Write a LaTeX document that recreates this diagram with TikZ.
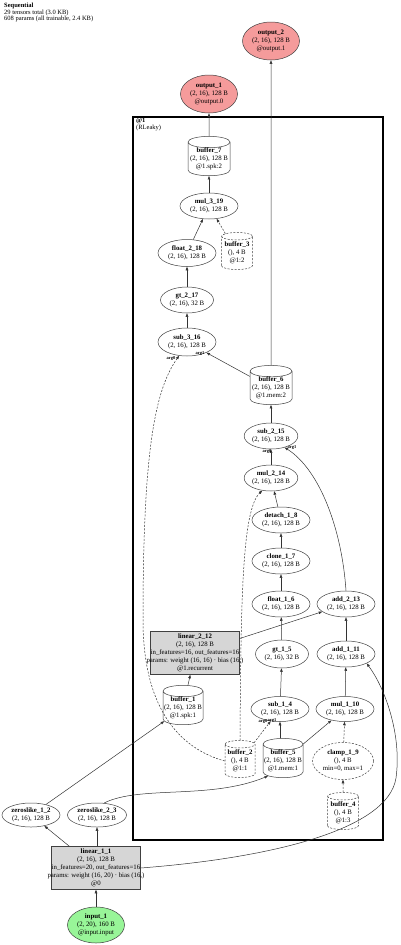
\documentclass[tikz,border=0pt]{standalone}
\usepackage{fontspec}
\setmainfont{Liberation Serif}
\usetikzlibrary{shapes.geometric,arrows.meta,calc}
\definecolor{outfill}{HTML}{F59B9B}
\definecolor{infill}{HTML}{98F598}
\definecolor{opfill}{HTML}{D6D6D6}
\newcommand{\ovl}[1]{\makebox[80pt][c]{#1}}
\begin{document}
\begin{tikzpicture}[x=1pt,y=-1pt,
  every node/.style={font=\fontsize{6.8}{7.9}\selectfont, align=center, inner sep=0pt},
  ell/.style={ellipse, draw=black!75, line width=0.5pt},
  cyl/.style={cylinder, shape border rotate=90, aspect=0.3, draw=black!75, line width=0.5pt},
  box/.style={rectangle, draw=black!75, line width=0.5pt, fill=opfill},
  dsh/.style={dash pattern=on 2pt off 1.5pt},
  conn/.style={draw=black!80, line width=0.5pt, -{Triangle[length=3.5pt,width=2.6pt]}},
  lbl/.style={font=\fontsize{4.5}{5}\selectfont\bfseries},
  ttl/.style={font=\fontsize{6.5}{6.6}\selectfont, align=left, anchor=north west}
]
\useasboundingbox (0,0) rectangle (400,945);

% title
\node[ttl] (title) at (4,3) {\textbf{Sequential}\\29 tensors total (3.0 KB)\\608 params (all trainable, 2.4 KB)};

% module box
\draw[line width=2.5pt] (133,117) rectangle (383,840);
\node[ttl] (boxlabel) at (136,118) {\textbf{@1}\\(RLeaky)};

% nodes
\node[ell, fill=outfill, minimum width=57, minimum height=38] (output_2) at (271,41) {\textbf{output\_2}\\(2, 16), 128 B\\@output.1};
\node[ell, fill=outfill, minimum width=57, minimum height=38] (output_1) at (209,94) {\textbf{output\_1}\\(2, 16), 128 B\\@output.0};
\node[cyl, minimum width=42, minimum height=38] (buffer_7) at (209,159) {\textbf{buffer\_7}\\(2, 16), 128 B\\@1.spk:2};
\node[ell, minimum width=58, minimum height=26] (mul_3_19) at (209,206) {\textbf{mul\_3\_19}\\(2, 16), 128 B};
\node[ell, minimum width=58, minimum height=27] (float_2_18) at (187,253) {\textbf{float\_2\_18}\\(2, 16), 128 B};
\node[cyl, dsh, minimum width=31, minimum height=37] (buffer_3) at (237,253) {\textbf{buffer\_3}\\(), 4 B\\@1:2};
\node[ell, minimum width=53, minimum height=26] (gt_2_17) at (187,300) {\textbf{gt\_2\_17}\\(2, 16), 32 B};
\node[ell, minimum width=58, minimum height=28] (sub_3_16) at (187,342) {\textbf{sub\_3\_16}\\(2, 16), 128 B};
\node[cyl, minimum width=42, minimum height=37] (buffer_6) at (271,388) {\textbf{buffer\_6}\\(2, 16), 128 B\\@1.mem:2};
\node[ell, minimum width=48, minimum height=26] (sub_2_15) at (271,436) {\textbf{sub\_2\_15}\\(2, 16), 128 B};
\node[ell, minimum width=48, minimum height=26] (mul_2_14) at (271,478) {\textbf{mul\_2\_14}\\(2, 16), 128 B};
\node[ell, minimum width=58, minimum height=26] (detach_1_8) at (281,520) {\textbf{detach\_1\_8}\\(2, 16), 128 B};
\node[ell, minimum width=58, minimum height=26] (clone_1_7) at (281,561) {\textbf{clone\_1\_7}\\(2, 16), 128 B};
\node[ell, minimum width=58, minimum height=26] (float_1_6) at (281,604) {\textbf{float\_1\_6}\\(2, 16), 128 B};
\node[ell, minimum width=58, minimum height=26] (add_2_13) at (346,604) {\textbf{add\_2\_13}\\(2, 16), 128 B};
\node[ell, minimum width=53, minimum height=28] (gt_1_5) at (282,654) {\textbf{gt\_1\_5}\\(2, 16), 32 B};
\node[ell, minimum width=58, minimum height=26] (add_1_11) at (346,654) {\textbf{add\_1\_11}\\(2, 16), 128 B};
\node[box, minimum width=89, minimum height=43] (linear_2_12) at (195,653) {\textbf{linear\_2\_12}\\(2, 16), 128 B\\\ovl{in\_features=16, out\_features=16}\\\ovl{params: weight (16, 16) · bias (16,)}\\@1.recurrent};
\node[cyl, minimum width=40, minimum height=37] (buffer_1) at (183,708) {\textbf{buffer\_1}\\(2, 16), 128 B\\@1.spk:1};
\node[ell, minimum width=58, minimum height=25] (sub_1_4) at (280,709) {\textbf{sub\_1\_4}\\(2, 16), 128 B};
\node[ell, minimum width=58, minimum height=25] (mul_1_10) at (345,709) {\textbf{mul\_1\_10}\\(2, 16), 128 B};
\node[cyl, dsh, minimum width=30, minimum height=37] (buffer_2) at (240,761) {\textbf{buffer\_2}\\(), 4 B\\@1:1};
\node[cyl, minimum width=40, minimum height=36] (buffer_5) at (283,761) {\textbf{buffer\_5}\\(2, 16), 128 B\\@1.mem:1};
\node[ell, dsh, minimum width=61, minimum height=37] (clamp_1_9) at (343,761) {\textbf{clamp\_1\_9}\\(), 4 B\\min=0, max=1};
\node[cyl, dsh, minimum width=31, minimum height=37] (buffer_4) at (343,813) {\textbf{buffer\_4}\\(), 4 B\\@1:3};
\node[ell, minimum width=58, minimum height=24] (zeroslike_1_2) at (31,815) {\textbf{zeroslike\_1\_2}\\(2, 16), 128 B};
\node[ell, minimum width=59, minimum height=24] (zeroslike_2_3) at (97,815) {\textbf{zeroslike\_2\_3}\\(2, 16), 128 B};
\node[box, minimum width=89, minimum height=43] (linear_1_1) at (96,868) {\textbf{linear\_1\_1}\\(2, 16), 128 B\\\ovl{in\_features=20, out\_features=16}\\\ovl{params: weight (16, 20) · bias (16,)}\\@0};
\node[ell, fill=infill, minimum width=57, minimum height=36] (input_1) at (96,925) {\textbf{input\_1}\\(2, 20), 160 B\\@input.input};

% waypoints
\coordinate (w1) at (396,778);
\coordinate (w2) at (143,620);

% connectors
\draw[conn] (input_1) -- (linear_1_1);
\draw[conn] (linear_1_1) -- (zeroslike_1_2);
\draw[conn] (linear_1_1.north -| zeroslike_2_3) -- (zeroslike_2_3);
\draw[conn] (linear_1_1.east) .. controls (270,858) and (388,830) .. (w1) .. controls (402,735) and (385,688) .. (add_1_11.south east);
\draw[conn] (zeroslike_1_2) -- (buffer_1);
\draw[conn] (zeroslike_2_3.60) .. controls (140,785) and (210,800) .. (buffer_5.south west);
\draw[conn] (buffer_1) -- (linear_2_12);
\draw[conn] (linear_2_12) -- (add_2_13);
\draw[conn, dsh] (buffer_2.west) .. controls (185,750) and (143,715) .. (w2) .. controls (143,450) and (155,390) .. (sub_3_16.240);
\draw[conn, dsh] (buffer_2.north) .. controls (241,600) and (242,510) .. (mul_2_14.235);
\draw[conn, dsh] (buffer_2) -- (sub_1_4);
\draw[conn] (buffer_5.north -| sub_1_4) -- (sub_1_4);
\draw[conn] (buffer_5) -- (mul_1_10);
\draw[conn, dsh] (buffer_4) -- (clamp_1_9);
\draw[conn, dsh] (clamp_1_9) -- (mul_1_10);
\draw[conn] (mul_1_10) -- (add_1_11);
\draw[conn] (add_1_11) -- (add_2_13);
\draw[conn] (sub_1_4) -- (gt_1_5);
\draw[conn] (gt_1_5) -- (float_1_6);
\draw[conn] (float_1_6) -- (clone_1_7);
\draw[conn] (clone_1_7) -- (detach_1_8);
\draw[conn] (detach_1_8) -- (mul_2_14);
\draw[conn] (mul_2_14) -- (sub_2_15);
\draw[conn] (add_2_13.north) .. controls (342,530) and (320,470) .. (sub_2_15.-40);
\draw[conn] (sub_2_15) -- (buffer_6);
\draw[conn] (buffer_6) -- (sub_3_16);
\draw[conn] (buffer_6.north) -- (output_2.south);
\draw[conn] (sub_3_16) -- (gt_2_17);
\draw[conn] (gt_2_17) -- (float_2_18);
\draw[conn] (float_2_18) -- (mul_3_19);
\draw[conn, dsh] (buffer_3) -- (mul_3_19);
\draw[conn] (mul_3_19) -- (buffer_7);
\draw[conn] (buffer_7) -- (output_1);

% edge labels
\node[lbl] (l1) at (171,358) {arg0};
\node[lbl] (l2) at (200,354) {arg1};
\node[lbl] (l3) at (267,451) {arg0};
\node[lbl] (l4) at (292,448) {arg1};
\node[lbl] (l5) at (263,721) {arg0};
\node[lbl] (l6) at (272,721) {arg1};
\end{tikzpicture}
\end{document}
